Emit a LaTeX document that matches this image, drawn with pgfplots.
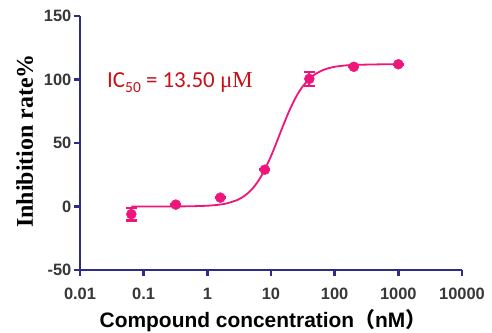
\documentclass[border=0pt]{standalone}
\usepackage{fontspec}
\usepackage{pgfplots}
\pgfplotsset{compat=1.18}
\setmainfont{Liberation Sans}
\newfontfamily\tnr{Liberation Serif}
\newfontfamily\carl{Carlito}
\newfontfamily\cjk{Noto Sans CJK SC}
\definecolor{pinkc}{RGB}{238,22,122}
\definecolor{redc}{RGB}{200,16,24}
\definecolor{tickgray}{RGB}{55,55,55}
\pgfplotstableread{
x y err
0.064 -6 5
0.32 1.5 0
1.6 7 0
8 29 0
40 100.5 5.5
200 110 0
1000 112 0
}\datatab
\begin{document}
\begin{tikzpicture}
\begin{axis}[
  at={(0,0)}, anchor=south west,
  xmode=log, scale only axis, width=382bp, height=254bp,
  xmin=0.01, xmax=10000, ymin=-50, ymax=150,
  axis x line*=bottom, axis y line*=left,
  axis line style={blue!55!black!65!gray, line width=2.6bp},
  tick style={blue!55!black!65!gray, line width=2.6bp},
  major tick length=6bp,
  tick align=outside,
  xminorticks=false, yminorticks=false,
  xtick={0.01,0.1,1,10,100,1000,10000},
  xticklabels={0.01,0.1,1,10,100,1000,10000},
  ytick={-50,0,50,100,150},
  yticklabels={-50,0,50,100,150},
  ticklabel style={font=\bfseries\fontsize{16.5}{16.5}\selectfont, text=tickgray, inner sep=0pt},
  xticklabel shift=12bp, yticklabel shift=2.5bp,
  clip=false,
]
\addplot[pinkc, line width=1.8bp, smooth, no markers] coordinates {
(0.064,0.0) (0.1,0.01) (0.2,0.02) (0.5,0.15) (1,0.61) (1.5,1.37) (2,2.41) (3,5.27) (4,9.04) (5,13.51) (6,18.47) (7,23.73) (8,29.11) (10,39.68) (12,49.43) (13.5,56) (15,61.88) (18,71.68) (20,76.94) (25,86.71) (30,93.14) (40,100.55) (50,104.39) (70,107.98) (100,110.0) (150,111.1) (200,111.49) (500,111.92) (1000,112)
};
\addplot[pinkc, only marks, mark=*, mark size=5bp, mark options={fill=pinkc, draw=pinkc},
  error bars/.cd, y dir=both, y explicit,
  error bar style={line width=2bp, pinkc},
  error mark options={rotate=90, mark size=5.5bp, line width=2.5bp, pinkc}]
  table[x=x, y=y, y error=err] {\datatab};
\end{axis}
\node[rotate=90, anchor=base west, inner sep=0pt, font=\tnr\bfseries\fontsize{24}{24}\selectfont, text=black] at (-47bp,42bp) {Inhibition rate\%};
\node[anchor=base, inner sep=0pt, font=\bfseries\fontsize{21}{21}\selectfont, text=black] at (183bp,-57bp) {Compound concentration{\cjk （}nM{\cjk ）}};
\node[anchor=base west, inner sep=0pt, text=redc] at (27bp,182bp) {\carl\fontsize{23}{23}\selectfont IC\raisebox{-0.18em}{\fontsize{15.5}{15.5}\selectfont 50} = 13.50 {\tnr μM}};
\path[use as bounding box] (-80bp,-63bp) rectangle (412bp,270bp);
\end{tikzpicture}
\end{document}
